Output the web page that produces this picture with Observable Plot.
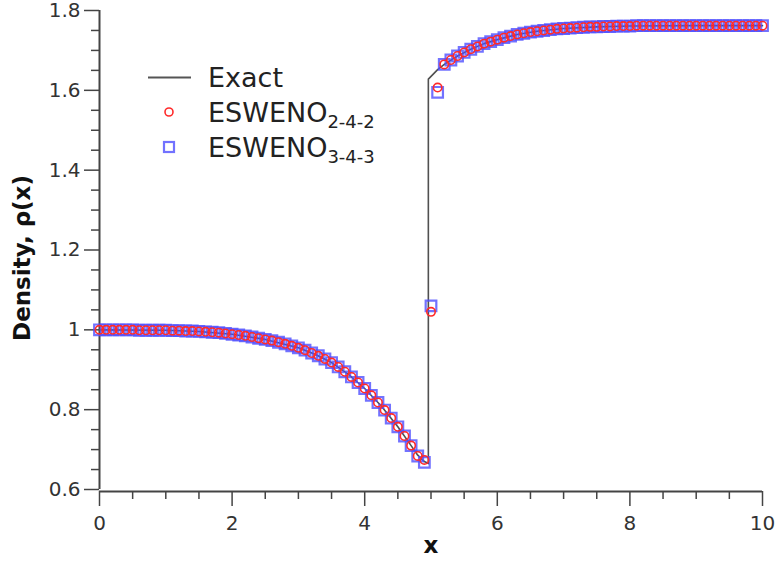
<!DOCTYPE html>
<html>
<head>
<meta charset="utf-8">
<script src="https://cdn.jsdelivr.net/npm/d3@7"></script>
<script src="https://cdn.jsdelivr.net/npm/@observablehq/plot@0.6"></script>
<style>
  html, body { margin: 0; padding: 0; background: #fff; }
  #wrap { position: relative; width: 777px; height: 565px; }
  #legend { position: absolute; left: 0; top: 0; pointer-events: none; }
</style>
</head>
<body>
<div id="wrap"></div>
<script>
// ---- data ----
const xGrid = [0.0,0.1,0.2,0.3,0.4,0.5,0.6,0.7,0.8,0.9,1.0,1.1,1.2,1.3,1.4,1.5,1.6,1.7,1.8,1.9,
  2.0,2.1,2.2,2.3,2.4,2.5,2.6,2.7,2.8,2.9,3.0,3.1,3.2,3.3,3.4,3.5,3.6,3.7,3.8,3.9,
  4.0,4.1,4.2,4.3,4.4,4.5,4.6,4.7,4.8,4.9,5.0,5.1,5.2,5.3,5.4,5.5,5.6,5.7,5.8,5.9,
  6.0,6.1,6.2,6.3,6.4,6.5,6.6,6.7,6.8,6.9,7.0,7.1,7.2,7.3,7.4,7.5,7.6,7.7,7.8,7.9,
  8.0,8.1,8.2,8.3,8.4,8.5,8.6,8.7,8.8,8.9,9.0,9.1,9.2,9.3,9.4,9.5,9.6,9.7,9.8,9.9,10.0];

// ESWENO 2-4-2 (red circles)
const rho242 = [1.000,1.000,1.000,1.000,1.000,1.000,0.999,0.999,0.999,0.999,
  0.999,0.998,0.998,0.997,0.997,0.996,0.995,0.994,0.993,0.991,
  0.989,0.987,0.985,0.982,0.979,0.976,0.973,0.969,0.965,0.960,
  0.955,0.949,0.942,0.935,0.927,0.918,0.907,0.895,0.882,0.868,
  0.853,0.836,0.818,0.799,0.779,0.757,0.734,0.710,0.684,0.674,
  1.045,1.607,1.665,1.676,1.686,1.695,1.703,1.710,1.717,1.722,
  1.727,1.732,1.736,1.740,1.743,1.746,1.748,1.750,1.752,1.754,
  1.755,1.756,1.757,1.758,1.759,1.759,1.760,1.760,1.761,1.761,
  1.761,1.762,1.762,1.762,1.762,1.762,1.762,1.762,1.762,1.762,
  1.762,1.762,1.762,1.762,1.762,1.762,1.762,1.762,1.762,1.762,1.762];

// ESWENO 3-4-3 (blue squares)
const rho343 = [1.000,1.000,1.000,1.000,1.000,1.000,0.999,0.999,0.999,0.999,
  0.999,0.998,0.998,0.997,0.997,0.996,0.995,0.994,0.993,0.991,
  0.989,0.987,0.985,0.982,0.979,0.976,0.973,0.969,0.965,0.960,
  0.955,0.949,0.942,0.935,0.927,0.918,0.907,0.895,0.882,0.868,
  0.853,0.836,0.818,0.799,0.779,0.757,0.734,0.710,0.684,0.668,
  1.060,1.595,1.665,1.676,1.686,1.695,1.703,1.710,1.717,1.722,
  1.727,1.732,1.736,1.740,1.743,1.746,1.748,1.750,1.752,1.754,
  1.755,1.756,1.757,1.758,1.759,1.759,1.760,1.760,1.761,1.761,
  1.761,1.762,1.762,1.762,1.762,1.762,1.762,1.762,1.762,1.762,
  1.762,1.762,1.762,1.762,1.762,1.762,1.762,1.762,1.762,1.762,1.762];

// Exact solution
const exactX = [0,1.0,1.5,2.0,2.5,3.0,3.25,3.5,3.75,4.0,4.25,4.5,4.7,4.8,4.9,4.96,
  4.96,5.1,5.2,5.4,5.6,5.8,6.0,6.3,6.6,7.0,7.5,8.0,9.0,10];
const exactRho = [1.000,0.999,0.996,0.989,0.976,0.955,0.939,0.918,0.889,0.853,0.809,0.757,0.710,0.686,0.670,0.665,
  1.628,1.652,1.665,1.686,1.703,1.717,1.727,1.740,1.748,1.755,1.759,1.761,1.762,1.762];

const xMajor = [0,2,4,6,8,10];
const xMinor = [0.5,1,1.5,2.5,3,3.5,4.5,5,5.5,6.5,7,7.5,8.5,9,9.5];
const yMajor = [0.6,0.8,1,1.2,1.4,1.6,1.8];
const yMinor = [0.65,0.7,0.75,0.85,0.9,0.95,1.05,1.1,1.15,1.25,1.3,1.35,1.45,1.5,1.55,1.65,1.7,1.75];

const legendLabels = ["Exact", "ESWENO", "2-4-2", "ESWENO", "3-4-3"];
const xTitle = "x";
const yTitle = "Density, \u03c1(x)";

// ---- chart ----
const pts242 = xGrid.map((x, i) => ({x, y: rho242[i]}));
const pts343 = xGrid.map((x, i) => ({x, y: rho343[i]}));
const exact = exactX.map((x, i) => ({x, y: exactRho[i]}));
const axisColor = "#444";
const fmt = d3.format("~g");

const chart = Plot.plot({
  width: 777,
  height: 565,
  marginLeft: 99,
  marginRight: 15,
  marginTop: 10,
  marginBottom: 76,
  x: {domain: [0, 10]},
  y: {domain: [0.6, 1.8]},
  style: {fontFamily: "DejaVu Sans", fontSize: "20px", color: "#333", background: "#fff"},
  marks: [
    Plot.axisY({ticks: yMajor, tickSize: 15, tickPadding: 4, tickFormat: fmt, label: null,
      stroke: axisColor, strokeWidth: 1.5, fill: "#333", fontSize: 20}),
    Plot.axisY({ticks: yMinor, tickSize: 8, tickFormat: () => "", label: null,
      stroke: axisColor, strokeWidth: 1.5}),
    Plot.axisX({ticks: xMajor, tickSize: 15, tickPadding: 9, tickFormat: fmt, label: null, dy: 2,
      stroke: axisColor, strokeWidth: 1.5, fill: "#333", fontSize: 20}),
    Plot.axisX({ticks: xMinor, tickSize: 8, tickFormat: () => "", label: null, dy: 2,
      stroke: axisColor, strokeWidth: 1.5}),
    Plot.ruleX([0], {stroke: axisColor, strokeWidth: 2}),
    Plot.ruleY([0.6], {stroke: axisColor, strokeWidth: 2, dy: 2}),
    Plot.line(exact, {x: "x", y: "y", stroke: "#505050", strokeWidth: 1.6}),
    Plot.dot(pts343, {x: "x", y: "y", symbol: "square", r: 6, stroke: "#4f4fff",
      strokeOpacity: 0.8, strokeWidth: 2.2, fill: "none"}),
    Plot.dot(pts242, {x: "x", y: "y", symbol: "circle", r: 4.2, stroke: "#ff2a2a",
      strokeWidth: 1.6, fill: "none"}),
    Plot.text([yTitle], {frameAnchor: "left", dx: -77, dy: 8, rotate: -90,
      fontWeight: "bold", fontSize: 23, fill: "#111", textAnchor: "middle"}),
    Plot.text([xTitle], {frameAnchor: "bottom", dy: 63, fontWeight: "bold", fontSize: 23,
      fill: "#111", textAnchor: "middle"})
  ]
});

const wrap = document.getElementById("wrap");
wrap.appendChild(chart);

// legend overlay
const ns = "http://www.w3.org/2000/svg";
const leg = document.createElementNS(ns, "svg");
leg.setAttribute("id", "legend");
leg.setAttribute("width", 777);
leg.setAttribute("height", 565);
leg.setAttribute("font-family", "DejaVu Sans");
leg.innerHTML = `
  <line x1="148" x2="191" y1="77.5" y2="77.5" stroke="#555" stroke-width="2"/>
  <text x="208" y="87" font-size="27" fill="#222">${legendLabels[0]}</text>
  <circle cx="169" cy="112" r="4" fill="none" stroke="#ff2a2a" stroke-width="1.6"/>
  <text x="208" y="121.5" font-size="27" fill="#222">${legendLabels[1]}<tspan font-size="18" dy="6">${legendLabels[2]}</tspan></text>
  <rect x="164" y="142" width="10" height="10" fill="none" stroke="#4f4fff" stroke-opacity="0.8" stroke-width="2.2"/>
  <text x="208" y="156.5" font-size="27" fill="#222">${legendLabels[3]}<tspan font-size="18" dy="6">${legendLabels[4]}</tspan></text>
`;
wrap.appendChild(leg);
</script>
</body>
</html>
